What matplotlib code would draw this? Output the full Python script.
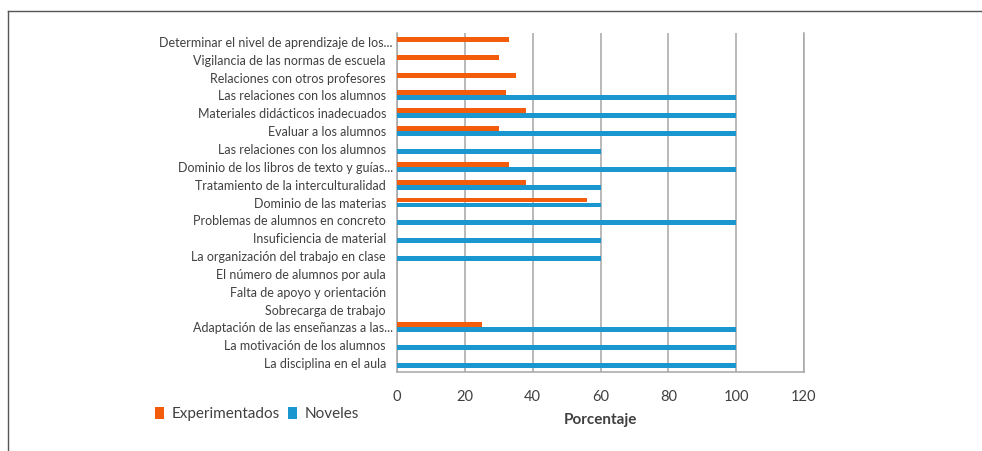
import numpy as np
import matplotlib
matplotlib.use('Agg')
import matplotlib.pyplot as plt
from matplotlib.lines import Line2D
from matplotlib.transforms import ScaledTranslation

# datos del grafico (de arriba hacia abajo)
categorias = [
    'Determinar el nivel de aprendizaje de los...',
    'Vigilancia de las normas de escuela',
    'Relaciones con otros profesores',
    'Las relaciones con los alumnos',
    'Materiales didácticos inadecuados',
    'Evaluar a los alumnos',
    'Las relaciones con los alumnos',
    'Dominio de los libros de texto y guías...',
    'Tratamiento de la interculturalidad',
    'Dominio de las materias',
    'Problemas de alumnos en concreto',
    'Insuficiencia de material',
    'La organización del trabajo en clase',
    'El número de alumnos por aula',
    'Falta de apoyo y orientación',
    'Sobrecarga de trabajo',
    'Adaptación de las enseñanzas a las...',
    'La motivación de los alumnos',
    'La disciplina en el aula',
]
experimentados = [33, 30, 35, 32, 38, 30, 0, 33, 38, 56, 0, 0, 0, 0, 0, 0, 25, 0, 0]
noveles = [0, 0, 0, 100, 100, 100, 60, 100, 60, 60, 100, 60, 60, 0, 0, 0, 100, 100, 100]
xticks = [0, 20, 40, 60, 80, 100, 120]

naranja = '#F35C0A'
azul = '#1A97CF'
gris = '#A6A6A6'
texto = '#404040'

plt.rcParams['font.family'] = ['Lato', 'DejaVu Sans']

fig = plt.figure(figsize=(9.82, 4.51), dpi=100)
ax = fig.add_axes([397 / 982, 1 - 372 / 451, 407 / 982, 339 / 451])

y = np.arange(len(categorias))
alto = 0.28
ax.barh(y - alto / 2, experimentados, height=alto, color=naranja, label='Experimentados', zorder=3)
ax.barh(y + alto / 2, noveles, height=alto, color=azul, label='Noveles', zorder=3)

ax.set_xlim(0, 120)
ax.set_ylim(len(categorias) - 0.5, -0.5)
ax.set_xticks(xticks)
ax.set_yticks(y)
ax.set_yticklabels(categorias, fontsize=9, color=texto)
ax.tick_params(axis='y', length=0, pad=8)
ax.tick_params(axis='x', length=0, pad=13, labelsize=10.5, labelcolor=texto)

# las etiquetas truncadas llegan un poco mas a la derecha
for lbl in ax.get_yticklabels():
    if lbl.get_text().endswith('...'):
        lbl.set_transform(lbl.get_transform() + ScaledTranslation(7 / 100, 0, fig.dpi_scale_trans))

ax.grid(axis='x', color=gris, linewidth=1.1, zorder=0)
ax.set_axisbelow(True)
ax.spines['top'].set_visible(False)
for s in ['left', 'bottom', 'right']:
    ax.spines[s].set_color(gris)
    ax.spines[s].set_linewidth(1.1)

ax.set_xlabel('Porcentaje', fontsize=11, fontweight='bold', color=texto, va='center')
ax.xaxis.set_label_coords(0.5, -(420 - 372) / 339)

fig.legend(loc='center left', bbox_to_anchor=(155 / 982, 1 - 414 / 451), ncol=2, frameon=False,
           fontsize=11, handlelength=0.6, handleheight=0.9, handletextpad=0.5,
           columnspacing=0.5, borderpad=0, borderaxespad=0, labelcolor=texto)

# borde de la captura (arriba e izquierda)
fig.add_artist(Line2D([8 / 982, 1], [1 - 10.5 / 451, 1 - 10.5 / 451], color='#555555', linewidth=1.0))
fig.add_artist(Line2D([8 / 982, 8 / 982], [0, 1 - 10.5 / 451], color='#555555', linewidth=1.0))

fig.savefig('out.png', dpi=100)
